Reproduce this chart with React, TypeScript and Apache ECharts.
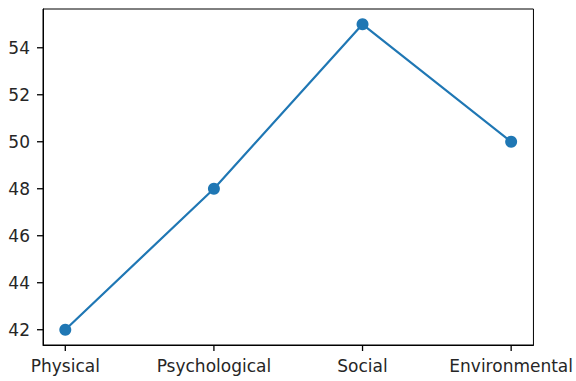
import React, { useEffect, useRef } from "react";
import * as echarts from "echarts";

const categories = ["Physical", "Psychological", "Social", "Environmental"];
const values = [42, 48, 55, 50];
const yTicks = [42, 44, 46, 48, 50, 52, 54];

export default function App() {
  const ref = useRef<HTMLDivElement>(null);
  useEffect(() => {
    if (!ref.current) return;
    const chart = echarts.init(ref.current, null, { renderer: "svg" });
    const xIdx = categories.map((_, i) => i);
    const yMinV = Math.min(...values);
    const yMaxV = Math.max(...values);
    const yPad = (yMaxV - yMinV) * 0.05;
    const xPad = (categories.length - 1) * 0.05;
    const yMin = yMinV - yPad;
    const xMin = -xPad;
    const font = "DejaVu Sans";
    const tickLen = 6;
    chart.setOption({
      animation: false,
      backgroundColor: "#ffffff",
      grid: {
        left: 43,
        top: 9,
        right: 38,
        bottom: 36,
        show: true,
        borderColor: "#000000",
        borderWidth: 1,
        containLabel: false,
      },
      xAxis: {
        type: "value",
        min: xMin,
        max: categories.length - 1 + xPad,
        splitLine: { show: false },
        axisLine: { show: true, onZero: false, lineStyle: { color: "#000", width: 1 } },
        axisTick: { show: false },
        axisLabel: {
          customValues: xIdx,
          formatter: (v: number) => categories[Math.round(v)] ?? "",
          color: "#262626",
          fontFamily: font,
          fontSize: 17,
          margin: 12,
        },
      },
      yAxis: {
        type: "value",
        min: yMin,
        max: yMaxV + yPad,
        splitLine: { show: false },
        axisLine: { show: true, onZero: false, lineStyle: { color: "#000", width: 1 } },
        axisTick: { show: false },
        axisLabel: {
          customValues: yTicks,
          color: "#262626",
          fontFamily: font,
          fontSize: 17,
          margin: 13,
        },
      },
      series: [
        {
          type: "scatter",
          silent: true,
          clip: false,
          data: xIdx.map((v) => [v, yMin]),
          symbol: "rect",
          symbolSize: [1.3, tickLen],
          symbolOffset: [0, tickLen / 2],
          itemStyle: { color: "#000000", opacity: 1 },
          z: 5,
        },
        {
          type: "scatter",
          silent: true,
          clip: false,
          data: yTicks.map((v) => [xMin, v]),
          symbol: "rect",
          symbolSize: [tickLen, 1.3],
          symbolOffset: [-tickLen / 2, 0],
          itemStyle: { color: "#000000", opacity: 1 },
          z: 5,
        },
        {
          type: "line",
          data: values.map((v, i) => [i, v]),
          symbol: "circle",
          symbolSize: 12,
          itemStyle: { color: "#1f77b4" },
          lineStyle: { color: "#1f77b4", width: 2.2 },
          z: 3,
        },
      ],
    });
    return () => chart.dispose();
  }, []);
  return (
    <div
      ref={ref}
      style={{ position: "absolute", left: 0, top: 0, width: 576, height: 381 }}
    />
  );
}
